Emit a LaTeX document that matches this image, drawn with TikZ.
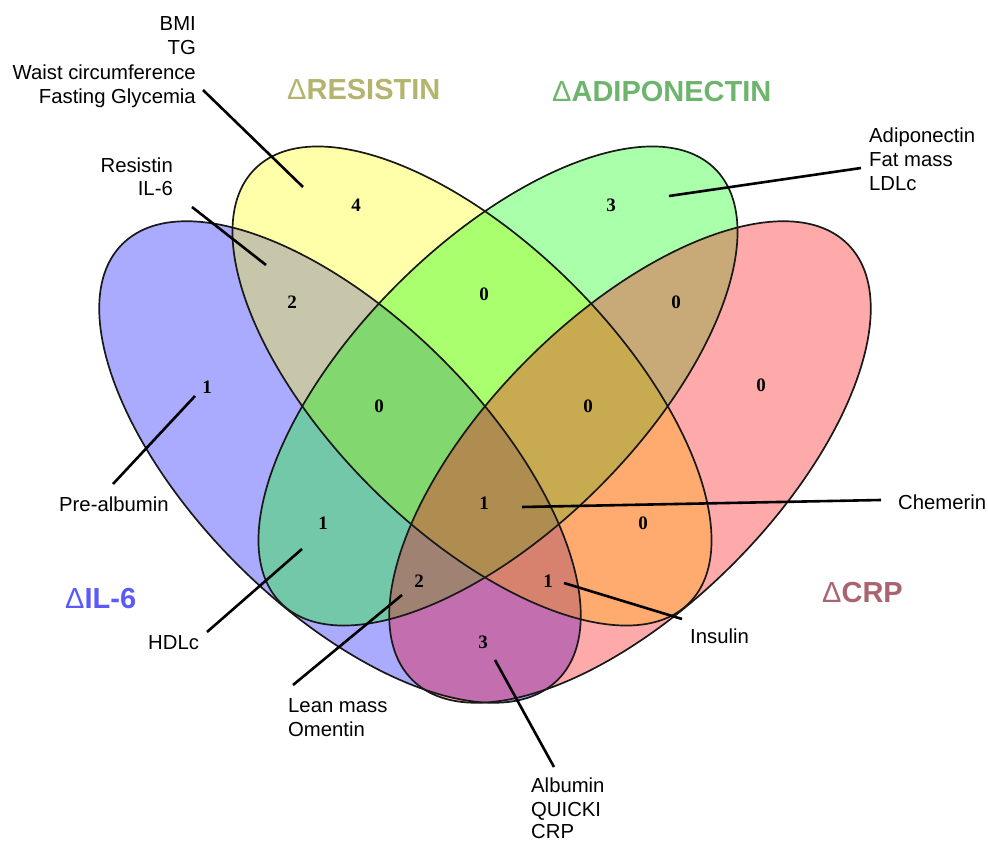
\documentclass[tikz,border=0pt]{standalone}
\usepackage{fontspec}
\setmainfont{Liberation Sans}
\newfontfamily\numfont{Liberation Serif}
\definecolor{cB}{HTML}{AAAAFF}
\definecolor{cY}{HTML}{FFFFAA}
\definecolor{cG}{HTML}{AAFFAA}
\definecolor{cR}{HTML}{FFAAAA}
\definecolor{cBY}{HTML}{C8C6AA}
\definecolor{cBG}{HTML}{73C8AA}
\definecolor{cBR}{HTML}{C36EAF}
\definecolor{cYG}{HTML}{AAFF6E}
\definecolor{cYR}{HTML}{FFAA6E}
\definecolor{cGR}{HTML}{C8AA78}
\definecolor{cBYG}{HTML}{82D76E}
\definecolor{cBYR}{HTML}{D7826E}
\definecolor{cBGR}{HTML}{A08273}
\definecolor{cYGR}{HTML}{C8AA50}
\definecolor{cBYGR}{HTML}{AF8C50}
\definecolor{tY}{HTML}{B4B46E}
\definecolor{tG}{HTML}{6DB46D}
\definecolor{tB}{HTML}{5A5AFA}
\definecolor{tR}{HTML}{AA6470}
\newcommand\EllB[1]{\path[#1,rotate around={-45:(340,462)}] (340,462) ellipse [x radius=308,y radius=145];}
\newcommand\EllR[1]{\path[#1,rotate around={45:(630,462)}] (630,462) ellipse [x radius=308,y radius=145];}
\newcommand\EllY[1]{\path[#1,rotate around={-45:(472,386)}] (472,386) ellipse [x radius=307,y radius=143];}
\newcommand\EllG[1]{\path[#1,rotate around={45:(498,386)}] (498,386) ellipse [x radius=307,y radius=143];}
\newcommand\Whole[1]{\fill[#1] (0,0) rectangle (988,843);}
\begin{document}
\begin{tikzpicture}[x=1bp,y=-1bp,
  lbl/.style={inner sep=0pt, font=\fontsize{20.3bp}{24bp}\selectfont},
  num/.style={inner sep=0pt, font=\numfont\bfseries\fontsize{19bp}{22bp}\selectfont},
  ttl/.style={inner sep=0pt, font=\bfseries\fontsize{29bp}{34bp}\selectfont},
  lead/.style={line width=2.6bp, black},
  outline/.style={draw=black!90, line width=1.7bp}]
\useasboundingbox (0,0) rectangle (988,843);
% single sets
\EllB{fill=cB}
\EllY{fill=cY}
\EllG{fill=cG}
\EllR{fill=cR}
% pairs
\begin{scope}\EllB{clip}\EllY{clip}\Whole{cBY}\end{scope}
\begin{scope}\EllB{clip}\EllG{clip}\Whole{cBG}\end{scope}
\begin{scope}\EllB{clip}\EllR{clip}\Whole{cBR}\end{scope}
\begin{scope}\EllY{clip}\EllG{clip}\Whole{cYG}\end{scope}
\begin{scope}\EllY{clip}\EllR{clip}\Whole{cYR}\end{scope}
\begin{scope}\EllG{clip}\EllR{clip}\Whole{cGR}\end{scope}
% triples
\begin{scope}\EllB{clip}\EllY{clip}\EllG{clip}\Whole{cBYG}\end{scope}
\begin{scope}\EllB{clip}\EllY{clip}\EllR{clip}\Whole{cBYR}\end{scope}
\begin{scope}\EllB{clip}\EllG{clip}\EllR{clip}\Whole{cBGR}\end{scope}
\begin{scope}\EllY{clip}\EllG{clip}\EllR{clip}\Whole{cYGR}\end{scope}
% all four
\begin{scope}\EllB{clip}\EllY{clip}\EllG{clip}\EllR{clip}\Whole{cBYGR}\end{scope}
% outlines
\EllB{outline}
\EllY{outline}
\EllG{outline}
\EllR{outline}
% numbers
\node[num] (nY) at (356,205) {4};
\node[num] (nBY) at (292,302) {2};
\node[num] (nB) at (207,387) {1};
\node[num] (nBYG) at (379,406) {0};
\node[num] (nYG) at (484,294) {0};
\node[num] (nYGR) at (588,406) {0};
\node[num] (nAll) at (484,503) {1};
\node[num] (nG) at (611,205) {3};
\node[num] (nGR) at (676,302) {0};
\node[num] (nR) at (761,385) {0};
\node[num] (nYR) at (643,523) {0};
\node[num] (nBG) at (323,523) {1};
\node[num] (nBGR) at (419,581) {2};
\node[num] (nBYR) at (548,581) {1};
\node[num] (nBR) at (483,642) {3};
% titles
\node[ttl, text=tY, anchor=base west] (tRes) at (287,99) {{\mdseries Δ}RESISTIN};
\node[ttl, text=tG, anchor=base west] (tAdi) at (552,101) {{\mdseries Δ}ADIPONECTIN};
\node[ttl, text=tB, anchor=base west] (tIL) at (65,608) {{\mdseries Δ}IL-6};
\node[ttl, text=tR, anchor=base west] (tCRP) at (822,602) {{\mdseries Δ}CRP};
% labels
\node[lbl, anchor=base east] (bmi) at (196,30) {BMI};
\node[lbl, anchor=base east] (tg) at (196,54) {TG};
\node[lbl, anchor=base east] (waist) at (196,79) {Waist circumference};
\node[lbl, anchor=base east] (fg) at (196,103) {Fasting Glycemia};
\node[lbl, anchor=base east] (resi) at (173,172) {Resistin};
\node[lbl, anchor=base east] (il6) at (173,195) {IL-6};
\node[lbl, anchor=base west] (adi) at (869,142) {Adiponectin};
\node[lbl, anchor=base west] (fat) at (869,166) {Fat mass};
\node[lbl, anchor=base west] (ldl) at (869,190) {LDLc};
\node[lbl, anchor=base west, fill=white, inner sep=1pt] (pre) at (58,511) {Pre-albumin};
\node[lbl, anchor=base west] (hdl) at (148,649) {HDLc};
\node[lbl, anchor=base west] (lean) at (288,712) {Lean mass};
\node[lbl, anchor=base west] (ome) at (288,736) {Omentin};
\node[lbl, anchor=base west] (alb) at (531,792) {Albumin};
\node[lbl, anchor=base west] (qui) at (531,816) {QUICKI};
\node[lbl, anchor=base west] (crp) at (531,838) {CRP};
\node[lbl, anchor=base west] (ins) at (690,643) {Insulin};
\node[lbl, anchor=base west] (che) at (898,509) {Chemerin};
% leader lines
\coordinate (a1) at (203,90);   \coordinate (b1) at (303,187);
\coordinate (a2) at (192,207);  \coordinate (b2) at (266,265);
\coordinate (a3) at (113,484);  \coordinate (b3) at (195,396);
\coordinate (a4) at (207,632);  \coordinate (b4) at (302,549);
\coordinate (a5) at (293,685);  \coordinate (b5) at (402,595);
\coordinate (a6) at (554,767);  \coordinate (b6) at (495,660);
\coordinate (a7) at (682,619);  \coordinate (b7) at (564,583);
\coordinate (a8) at (881,500);  \coordinate (b8) at (522,507);
\coordinate (a9) at (861,168);  \coordinate (b9) at (669,196);
\draw[lead] (a1) -- (b1);
\draw[lead] (a2) -- (b2);
\draw[lead] (a3) -- (b3);
\draw[lead] (a4) -- (b4);
\draw[lead] (a5) -- (b5);
\draw[lead] (a6) -- (b6);
\draw[lead] (a7) -- (b7);
\draw[lead] (a8) -- (b8);
\draw[lead] (a9) -- (b9);
\end{tikzpicture}
\end{document}
